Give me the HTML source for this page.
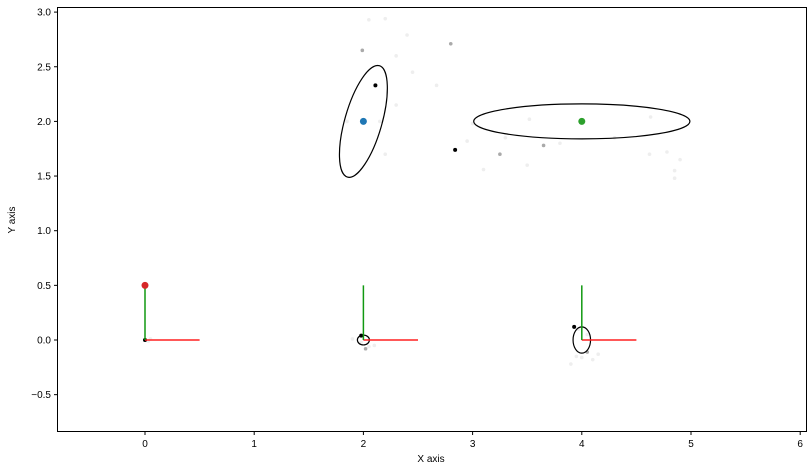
<!DOCTYPE html>
<html><head><meta charset="utf-8"><style>
body{margin:0;background:#fff;font-family:"Liberation Sans",sans-serif}
svg text{font-family:"Liberation Sans",sans-serif;font-size:10px;fill:#000}
</style></head><body>
<svg id="c" width="812" height="471" xmlns="http://www.w3.org/2000/svg">
<rect x="57.5" y="7.5" width="749" height="424" fill="#fff" stroke="#000" stroke-width="1"/>
<g id="g"></g>
<text x="431" y="462" text-anchor="middle">X axis</text>
<text x="15" y="220" text-anchor="middle" transform="rotate(-90 15 220)">Y axis</text>
</svg>
<script>
const xTicks=[0,1,2,3,4,5,6];
const yTicks=[-0.5,0,0.5,1,1.5,2,2.5,3];
const yTickLabels=["−0.5","0.0","0.5","1.0","1.5","2.0","2.5","3.0"];
const poseX=[0,2,4];
const poseY=[0,0,0];
const landmarkX=[0,2,4];
const landmarkY=[0.5,2,2];
const landmarkColors=["#d62728","#1f77b4","#2ca02c"];
const ellCX=[2,4,2,4];
const ellCY=[2,2,0,0];
const ellRX=[0.17,0.99,0.055,0.08];
const ellRY=[0.53,0.16,0.045,0.12];
const ellAngle=[16,0,0,0];
const darkX=[2.11,2.84,1.98,3.93,0];
const darkY=[2.33,1.74,0.04,0.12,0];
const greyX=[3.65,3.25,4.05,1.99,2.8,2.02];
const greyY=[1.78,1.7,-0.11,2.65,2.71,-0.08];
const faintX=[2.2,2.4,2.45,2.67,2.05,1.85,2.3,3.52,3.8,4.63,4.78,4.85,4.9,4.62,3.5,3.1,3.3,2.95,4.3,3.0,4.85,1.98,1.9,2.1,2.05,4.0,3.9,3.95,4.1,4.15,3.97,4.05,2.3,2.15,2.2,0.03,0.05];
const faintY=[2.94,2.79,2.45,2.33,2.93,2.0,2.15,2.02,1.8,2.04,1.72,1.48,1.65,1.7,1.6,1.56,1.85,1.82,1.85,1.98,1.55,-0.02,0.01,-0.05,-0.06,-0.16,-0.22,-0.15,-0.18,-0.13,0.1,0.05,2.6,2.0,1.7,-0.01,0.01];
const X=v=>145+109.2*v, Y=v=>340-109.3*v;
const g=document.getElementById('g'), NS="http://www.w3.org/2000/svg";
function mk(t,a){const e=document.createElementNS(NS,t);for(const k in a)e.setAttribute(k,a[k]);g.appendChild(e);return e;}
xTicks.forEach(t=>{mk('line',{x1:X(t),x2:X(t),y1:431.5,y2:435,stroke:'#000'});const e=mk('text',{x:X(t),y:447,'text-anchor':'middle'});e.textContent=t;

});
yTicks.forEach((t,i)=>{mk('line',{x1:54,x2:57.5,y1:Y(t),y2:Y(t),stroke:'#000'});const e=mk('text',{x:51,y:Y(t)+3.5,'text-anchor':'end'});e.textContent=yTickLabels[i];

});
faintX.forEach((v,i)=>{const e=mk('circle',{cx:X(v),cy:Y(faintY[i]),r:1.8,fill:'#eeeeee'});

});
greyX.forEach((v,i)=>{const e=mk('circle',{cx:X(v),cy:Y(greyY[i]),r:1.8,fill:'#aaa'});

});
ellCX.forEach((v,i)=>{const e=mk('ellipse',{cx:X(v),cy:Y(ellCY[i]),rx:ellRX[i]*109.2,ry:ellRY[i]*109.3,fill:'none',stroke:'#000','stroke-width':1.2,transform:`rotate(${ellAngle[i]} ${X(v)} ${Y(ellCY[i])})`});

});
darkX.forEach((v,i)=>{const e=mk('circle',{cx:X(v),cy:Y(darkY[i]),r:2,fill:'#000'});

});
poseX.forEach((v,i)=>{const y=poseY[i];
const r=mk('line',{x1:X(v),y1:Y(y),x2:X(v+0.5),y2:Y(y),stroke:'#ff2020','stroke-width':1.5});


const gr=mk('line',{x1:X(v),y1:Y(y),x2:X(v),y2:Y(y+0.5),stroke:'#119911','stroke-width':1.5});

});
landmarkX.forEach((v,i)=>{const e=mk('circle',{cx:X(v),cy:Y(landmarkY[i]),r:3.5,fill:landmarkColors[i]});

});
</script>
</body></html>
